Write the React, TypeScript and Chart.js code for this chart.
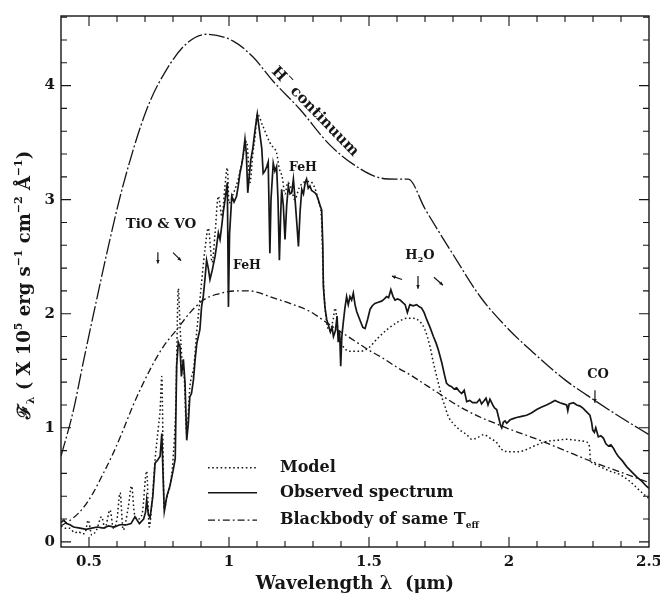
import React, { useEffect, useRef } from "react";
import { Chart, registerables } from "chart.js";
Chart.register(...registerables);

// ---------- data (wavelength in micron, flux in 1e5 erg s^-1 cm^-2 A^-1) ----------
const obsWave = [
  0.4, 0.41, 0.42, 0.432, 0.445, 0.468, 0.49, 0.51, 0.53, 0.55, 0.57, 0.59, 0.61, 0.635, 0.65, 0.664, 0.68, 0.695, 0.702, 0.706,
  0.712, 0.718, 0.728, 0.736, 0.746, 0.754, 0.76, 0.765, 0.769, 0.778, 0.789, 0.8, 0.808, 0.813, 0.819, 0.825, 0.83, 0.837, 0.843, 0.849,
  0.855, 0.86, 0.866, 0.873, 0.879, 0.885, 0.896, 0.902, 0.908, 0.914, 0.92, 0.926, 0.932, 0.94, 0.95, 0.956, 0.962, 0.968, 0.974, 0.98,
  0.986, 0.994, 0.998, 1.002, 1.01, 1.018, 1.027, 1.033, 1.039, 1.045, 1.05, 1.057, 1.062, 1.067, 1.072, 1.078, 1.085, 1.093, 1.101, 1.109,
  1.117, 1.122, 1.128, 1.135, 1.14, 1.146, 1.15, 1.158, 1.164, 1.17, 1.175, 1.18, 1.185, 1.188, 1.194, 1.2, 1.206, 1.212, 1.218, 1.224,
  1.23, 1.236, 1.242, 1.248, 1.254, 1.26, 1.266, 1.272, 1.277, 1.283, 1.289, 1.295, 1.301, 1.307, 1.313, 1.319, 1.325, 1.331, 1.335, 1.337,
  1.343, 1.349, 1.355, 1.362, 1.368, 1.373, 1.38, 1.386, 1.39, 1.395, 1.399, 1.403, 1.408, 1.414, 1.42, 1.426, 1.432, 1.438, 1.444, 1.45,
  1.456, 1.462, 1.47, 1.478, 1.486, 1.495, 1.504, 1.512, 1.521, 1.533, 1.545, 1.555, 1.563, 1.57, 1.578, 1.586, 1.593, 1.602, 1.611, 1.62,
  1.629, 1.637, 1.646, 1.658, 1.67, 1.68, 1.688, 1.697, 1.706, 1.718, 1.73, 1.74, 1.748, 1.76, 1.77, 1.777, 1.786, 1.795, 1.804, 1.813,
  1.822, 1.831, 1.84, 1.849, 1.86, 1.87, 1.885, 1.895, 1.902, 1.909, 1.918, 1.925, 1.932, 1.938, 1.944, 1.95, 1.956, 1.965, 1.97, 1.974,
  1.98, 1.986, 1.992, 2.004, 2.015, 2.027, 2.045, 2.063, 2.08, 2.099, 2.115, 2.134, 2.15, 2.164, 2.172, 2.182, 2.194, 2.206, 2.21, 2.215,
  2.23, 2.242, 2.254, 2.265, 2.277, 2.289, 2.295, 2.299, 2.305, 2.31, 2.319, 2.328, 2.337, 2.346, 2.355, 2.364, 2.373, 2.382, 2.39, 2.405,
  2.42, 2.44, 2.456, 2.475, 2.49, 2.5,
];
const obsFlux = [
  0.17, 0.19, 0.16, 0.15, 0.13, 0.12, 0.11, 0.12, 0.13, 0.12, 0.14, 0.13, 0.15, 0.15, 0.16, 0.22, 0.16, 0.2, 0.26, 0.37,
  0.24, 0.21, 0.4, 0.69, 0.72, 0.75, 0.95, 0.55, 0.27, 0.4, 0.49, 0.62, 0.73, 1.54, 1.75, 1.71, 1.45, 1.6, 1.39, 0.89,
  1.05, 1.27, 1.3, 1.42, 1.6, 1.74, 1.86, 2.06, 2.15, 2.3, 2.47, 2.4, 2.3, 2.38, 2.5, 2.6, 2.71, 2.65, 2.77, 2.9,
  3.0, 3.15, 2.06, 2.7, 3.03, 2.98, 3.03, 3.12, 3.23, 3.3, 3.38, 3.53, 3.4, 3.06, 3.2, 3.35, 3.45, 3.61, 3.75, 3.6,
  3.45, 3.23, 3.25, 3.29, 3.33, 2.53, 3.0, 3.32, 3.25, 3.29, 3.0, 2.47, 2.9, 3.09, 2.95, 2.65, 2.95, 3.12, 3.05, 3.06,
  3.18, 3.0, 2.8, 2.59, 2.9, 3.09, 3.05, 3.15, 3.18, 3.1, 3.12, 3.08, 3.07, 3.06, 3.04, 3.0, 2.95, 2.91, 2.6, 2.24,
  2.05, 1.95, 1.9, 1.84, 1.88, 1.8, 1.85, 1.98, 1.75, 1.85, 1.54, 1.8, 1.92, 2.05, 2.15, 2.08, 2.15, 2.12, 2.18, 2.08,
  2.02, 1.98, 1.93, 1.88, 1.87, 1.95, 2.04, 2.07, 2.09, 2.1, 2.11, 2.13, 2.15, 2.14, 2.21, 2.15, 2.12, 2.13, 2.12, 2.1,
  2.08, 2.01, 2.08, 2.07, 2.08, 2.06, 2.05, 2.01, 1.95, 1.88, 1.8, 1.74, 1.68, 1.57, 1.46, 1.39, 1.37, 1.36, 1.34, 1.35,
  1.32, 1.3, 1.33, 1.23, 1.24, 1.22, 1.22, 1.25, 1.21, 1.23, 1.26, 1.2, 1.25, 1.22, 1.19, 1.17, 1.16, 1.07, 1.02, 1.0,
  1.05, 1.06, 1.04, 1.07, 1.08, 1.09, 1.1, 1.11, 1.13, 1.16, 1.18, 1.2, 1.22, 1.24, 1.23, 1.22, 1.21, 1.2, 1.15, 1.21,
  1.22, 1.2, 1.19, 1.17, 1.14, 1.11, 1.05, 0.98, 0.96, 1.0, 0.92, 0.93, 0.91, 0.86, 0.84, 0.85, 0.82, 0.78, 0.75, 0.71,
  0.66, 0.61, 0.57, 0.53, 0.49, 0.47,
];

const modelWave = [
  0.4, 0.415, 0.43, 0.45, 0.462, 0.475, 0.486, 0.497, 0.51, 0.527, 0.545, 0.557, 0.575, 0.587, 0.6, 0.611, 0.622, 0.64, 0.652, 0.662,
  0.675, 0.69, 0.706, 0.715, 0.725, 0.736, 0.748, 0.754, 0.76, 0.765, 0.768, 0.779, 0.79, 0.8, 0.81, 0.819, 0.825, 0.832, 0.84, 0.849,
  0.86, 0.875, 0.885, 0.896, 0.905, 0.914, 0.926, 0.94, 0.95, 0.962, 0.975, 0.985, 0.994, 1.0, 1.015, 1.033, 1.048, 1.063, 1.075, 1.085,
  1.093, 1.101, 1.12, 1.146, 1.157, 1.17, 1.18, 1.19, 1.2, 1.21, 1.222, 1.235, 1.25, 1.265, 1.289, 1.307, 1.32, 1.33, 1.337, 1.345,
  1.36, 1.372, 1.379, 1.39, 1.4, 1.408, 1.432, 1.468, 1.498, 1.533, 1.569, 1.605, 1.635, 1.658, 1.682, 1.7, 1.718, 1.73, 1.748, 1.76,
  1.771, 1.783, 1.8, 1.825, 1.849, 1.867, 1.885, 1.909, 1.932, 1.956, 1.974, 2.004, 2.033, 2.063, 2.099, 2.134, 2.17, 2.206, 2.242, 2.271,
  2.287, 2.291, 2.3, 2.325, 2.36, 2.396, 2.432, 2.462, 2.49, 2.5,
];
const modelFlux = [
  0.14, 0.12, 0.12, 0.08, 0.09, 0.07, 0.08, 0.19, 0.06, 0.105, 0.22, 0.12, 0.28, 0.12, 0.2, 0.43, 0.105, 0.3, 0.49, 0.25,
  0.2, 0.25, 0.62, 0.13, 0.35, 0.72, 1.01, 1.16, 1.45, 0.7, 0.28, 0.4, 0.5, 0.72, 1.2, 2.22, 1.9, 1.6, 1.45, 0.95,
  1.35, 1.55, 1.85, 2.12, 2.35, 2.56, 2.75, 2.45, 2.7, 3.03, 2.85, 3.1, 3.28, 2.97, 3.05, 3.18, 3.35, 3.51, 3.15, 3.4,
  3.55, 3.75, 3.65, 3.5, 3.46, 3.41, 3.27, 3.2, 3.05, 3.15, 3.1, 3.0, 3.1, 3.15, 3.16, 3.1, 2.98, 2.85, 2.3, 2.0,
  1.85, 1.95, 2.05, 1.85, 1.75, 1.71, 1.67, 1.67, 1.7, 1.79, 1.87, 1.93, 1.96, 1.96, 1.93, 1.86, 1.71, 1.57, 1.39, 1.27,
  1.19, 1.1, 1.04, 0.98, 0.94, 0.9, 0.91, 0.94, 0.91, 0.87, 0.81, 0.79, 0.79, 0.81, 0.85, 0.88, 0.89, 0.9, 0.89, 0.88,
  0.84, 0.72, 0.69, 0.66, 0.62, 0.59, 0.53, 0.46, 0.4, 0.38,
];

const bbWave = [
  0.4, 0.42, 0.444, 0.48, 0.515, 0.551, 0.587, 0.622, 0.658, 0.718, 0.765, 0.813, 0.861, 0.908, 0.956, 1.027, 1.075, 1.099, 1.146, 1.218,
  1.289, 1.35, 1.4, 1.45, 1.5, 1.55, 1.6, 1.65, 1.7, 1.75, 1.8, 1.85, 1.9, 1.95, 2.0, 2.1, 2.2, 2.3, 2.4, 2.5,
];
const bbFlux = [
  0.14, 0.17, 0.21, 0.3, 0.43, 0.6, 0.78, 0.98, 1.2, 1.51, 1.71, 1.86, 2.01, 2.12, 2.17, 2.2, 2.2, 2.19, 2.15, 2.09,
  2.02, 1.92, 1.84, 1.76, 1.68, 1.61, 1.53, 1.46, 1.38, 1.3, 1.22, 1.15, 1.09, 1.04, 0.99, 0.9, 0.8, 0.7, 0.61, 0.52,
];

const hminWave = [
  0.4, 0.444, 0.48, 0.527, 0.57, 0.62, 0.706, 0.777, 0.849, 0.92, 1.015, 1.086, 1.157, 1.254, 1.36, 1.456, 1.54, 1.6, 1.64, 1.7,
  1.8, 1.9, 2.0, 2.1, 2.2, 2.3, 2.4, 2.5,
];
const hminFlux = [
  0.75, 1.15, 1.58, 2.12, 2.6, 3.11, 3.79, 4.14, 4.37, 4.45, 4.39, 4.25, 4.04, 3.79, 3.48, 3.29, 3.19, 3.18, 3.18, 2.92,
  2.52, 2.14, 1.86, 1.63, 1.42, 1.25, 1.09, 0.94,
];

const xTicks = [0.5, 1, 1.5, 2, 2.5];
const xTickLabels = ["0.5", "1", "1.5", "2", "2.5"];
const yTicks = [0, 1, 2, 3, 4];
const yTickLabels = ["0", "1", "2", "3", "4"];

const legendLabels = ["Model", "Observed spectrum", "Blackbody of same T"];

// ---------- styling ----------
const FONT = '"DejaVu Serif", "Liberation Serif", serif';
const INK = "#161616";
const DASH_MODEL = [1.6, 2.6];
const DASH_BB = [7, 3, 1.8, 3];
const DASH_HMIN = [16, 2.5, 2, 2.5];

const pts = (xs: number[], ys: number[]) => xs.map((x, i) => ({ x, y: ys[i] }));

const decorPlugin = {
  id: "decor",
  afterDraw(chart: any) {
    const { ctx, chartArea: a, scales } = chart;
    const sx = scales.x, sy = scales.y;
    const X = (v: number) => sx.getPixelForValue(v);
    const Y = (v: number) => sy.getPixelForValue(v);
    ctx.save();
    ctx.strokeStyle = INK;
    ctx.fillStyle = INK;
    // frame
    ctx.lineWidth = 1.4;
    ctx.setLineDash([]);
    ctx.strokeRect(a.left, a.top, a.right - a.left, a.bottom - a.top);
    // x minor/major ticks
    ctx.lineWidth = 1.1;
    for (let i = 5; i <= 24; i++) {
      const px = X(i / 10);
      const len = i % 5 === 0 ? 10 : 6;
      ctx.beginPath();
      ctx.moveTo(px, a.bottom); ctx.lineTo(px, a.bottom - len);
      ctx.moveTo(px, a.top); ctx.lineTo(px, a.top + len);
      ctx.stroke();
    }
    for (let j = 0; j <= 23; j++) {
      const py = Y(j / 5);
      const len = j % 5 === 0 ? 10 : 6;
      ctx.beginPath();
      ctx.moveTo(a.left, py); ctx.lineTo(a.left + len, py);
      ctx.moveTo(a.right, py); ctx.lineTo(a.right - len, py);
      ctx.stroke();
    }
    // tick labels
    ctx.font = `bold 15px ${FONT}`;
    ctx.textAlign = "center";
    ctx.textBaseline = "middle";
    xTicks.forEach((v, i) => ctx.fillText(xTickLabels[i], X(v), a.bottom + 15));
    ctx.textAlign = "right";
    yTicks.forEach((v, i) => ctx.fillText(yTickLabels[i], a.left - 6, Y(v)));

    // x title
    ctx.textAlign = "center";
    ctx.font = `bold 18px ${FONT}`;
    ctx.fillText("Wavelength λ  (μm)", (a.left + a.right) / 2, 584);

    // y title (rotated)
    const pieces: [string, string][] = [
      ["ℱ", "n"], ["λ", "sub"], [" ( X 10", "n"], ["5", "sup"], [" erg s", "n"], ["−1", "sup"],
      [" cm", "n"], ["−2", "sup"], [" Å", "n"], ["−1", "sup"], [")", "n"],
    ];
    const fn = (k: string) => (k === "n" ? `bold 18px ${FONT}` : `bold 11px ${FONT}`);
    let total = 0;
    pieces.forEach(([t, k]) => { ctx.font = fn(k); total += ctx.measureText(t).width; });
    ctx.translate(24, 285);
    ctx.rotate(-Math.PI / 2);
    ctx.textAlign = "left";
    ctx.textBaseline = "alphabetic";
    let cx = -total / 2;
    pieces.forEach(([t, k]) => {
      ctx.font = fn(k);
      const dy = k === "sup" ? -8 : k === "sub" ? 4 : 0;
      ctx.fillText(t, cx, 6 + dy);
      cx += ctx.measureText(t).width;
    });
    ctx.setTransform(1, 0, 0, 1, 0, 0);

    // H- continuum label along the curve
    ctx.save();
    ctx.translate(X(1.307), Y(3.77));
    ctx.rotate((46 * Math.PI) / 180);
    ctx.textBaseline = "middle";
    ctx.font = `bold 15px ${FONT}`;
    const w1 = ctx.measureText("H").width;
    const w2 = ctx.measureText(" continuum").width;
    ctx.font = `bold 9px ${FONT}`;
    const wm = ctx.measureText("−").width;
    const tw = w1 + wm + w2;
    ctx.textAlign = "left";
    ctx.font = `bold 15px ${FONT}`;
    ctx.fillText("H", -tw / 2, 0);
    ctx.font = `bold 9px ${FONT}`;
    ctx.fillText("−", -tw / 2 + w1, -6);
    ctx.font = `bold 15px ${FONT}`;
    ctx.fillText(" continuum", -tw / 2 + w1 + wm, 0);
    ctx.restore();

    // annotations
    ctx.textAlign = "center";
    ctx.textBaseline = "middle";
    ctx.font = `bold 13.5px ${FONT}`;
    ctx.fillText("TiO & VO", X(0.757), Y(2.78));
    ctx.font = `bold 12.5px ${FONT}`;
    ctx.fillText("FeH", X(1.064), Y(2.42));
    ctx.fillText("FeH", X(1.264), Y(3.28));
    ctx.font = `bold 13px ${FONT}`;
    ctx.fillText("CO", X(2.318), Y(1.465));
    // H2O
    {
      const cxp = X(1.682), cyp = Y(2.51);
      ctx.font = `bold 13px ${FONT}`;
      const wh = ctx.measureText("H").width;
      const wo = ctx.measureText("O").width;
      ctx.font = `bold 8px ${FONT}`;
      const w2s = ctx.measureText("2").width;
      const t = wh + w2s + wo;
      ctx.textAlign = "left";
      ctx.font = `bold 13px ${FONT}`;
      ctx.fillText("H", cxp - t / 2, cyp);
      ctx.font = `bold 8px ${FONT}`;
      ctx.fillText("2", cxp - t / 2 + wh, cyp + 4);
      ctx.font = `bold 13px ${FONT}`;
      ctx.fillText("O", cxp - t / 2 + wh + w2s, cyp);
    }
    // arrows
    const arrow = (x0: number, y0: number, x1: number, y1: number) => {
      const p0x = X(x0), p0y = Y(y0), p1x = X(x1), p1y = Y(y1);
      const ang = Math.atan2(p1y - p0y, p1x - p0x);
      ctx.lineWidth = 1.2;
      ctx.beginPath();
      ctx.moveTo(p0x, p0y); ctx.lineTo(p1x, p1y); ctx.stroke();
      ctx.beginPath();
      ctx.moveTo(p1x, p1y);
      ctx.lineTo(p1x - 4 * Math.cos(ang - 0.45), p1y - 4 * Math.sin(ang - 0.45));
      ctx.lineTo(p1x - 4 * Math.cos(ang + 0.45), p1y - 4 * Math.sin(ang + 0.45));
      ctx.closePath(); ctx.fill();
    };
    arrow(0.746, 2.54, 0.746, 2.44);
    arrow(0.8, 2.535, 0.829, 2.465);
    arrow(1.618, 2.3, 1.582, 2.33);
    arrow(1.675, 2.33, 1.675, 2.22);
    arrow(1.732, 2.32, 1.764, 2.25);
    arrow(2.307, 1.33, 2.307, 1.22);

    // legend
    const rows = [0.65, 0.43, 0.19];
    const dashes = [DASH_MODEL, [], DASH_BB];
    const widths = [1.5, 1.5, 1.3];
    rows.forEach((ry, i) => {
      ctx.setLineDash(dashes[i]);
      ctx.lineWidth = widths[i];
      ctx.beginPath();
      ctx.moveTo(X(0.925), Y(ry)); ctx.lineTo(X(1.1), Y(ry));
      ctx.stroke();
    });
    ctx.setLineDash([]);
    ctx.font = `bold 16px ${FONT}`;
    ctx.textAlign = "left";
    ctx.textBaseline = "middle";
    rows.forEach((ry, i) => ctx.fillText(legendLabels[i], X(1.182), Y(ry)));
    const wt = ctx.measureText(legendLabels[2]).width;
    ctx.font = `bold 9px ${FONT}`;
    ctx.fillText("eff", X(1.182) + wt, Y(rows[2]) + 5);
    ctx.restore();
  },
};

export default function App() {
  const ref = useRef<HTMLCanvasElement | null>(null);
  useEffect(() => {
    if (!ref.current) return;
    const chart = new Chart(ref.current, {
      type: "line",
      data: {
        datasets: [
          {
            label: "H- continuum",
            data: pts(hminWave, hminFlux),
            borderColor: INK, borderWidth: 1.3, borderDash: DASH_HMIN,
            cubicInterpolationMode: "monotone", pointRadius: 0, fill: false,
          },
          {
            label: "Blackbody",
            data: pts(bbWave, bbFlux),
            borderColor: INK, borderWidth: 1.3, borderDash: DASH_BB,
            cubicInterpolationMode: "monotone", pointRadius: 0, fill: false,
          },
          {
            label: "Model",
            data: pts(modelWave, modelFlux),
            borderColor: INK, borderWidth: 1.5, borderDash: DASH_MODEL,
            cubicInterpolationMode: "monotone", pointRadius: 0, fill: false,
          },
          {
            label: "Observed",
            data: pts(obsWave, obsFlux),
            borderColor: INK, borderWidth: 1.7, tension: 0,
            pointRadius: 0, fill: false,
          },
        ],
      },
      options: {
        responsive: false,
        animation: false,
        layout: { padding: { left: 0, right: 11, top: 16, bottom: 0 } },
        plugins: { legend: { display: false }, tooltip: { enabled: false } },
        scales: {
          x: {
            type: "linear", min: 0.4, max: 2.5,
            grid: { display: false, drawTicks: false }, border: { display: false },
            ticks: { display: false },
            afterFit: (s: any) => { s.height = 49; },
          },
          y: {
            type: "linear", min: -0.045, max: 4.61,
            grid: { display: false, drawTicks: false }, border: { display: false },
            ticks: { display: false },
            afterFit: (s: any) => { s.width = 61; },
          },
        },
      },
      plugins: [decorPlugin],
    } as any);
    return () => chart.destroy();
  }, []);
  return (
    <div style={{ position: "absolute", left: 0, top: 0, width: 660, height: 596, background: "#fff" }}>
      <canvas ref={ref} width={660} height={596} style={{ display: "block" }} />
    </div>
  );
}
